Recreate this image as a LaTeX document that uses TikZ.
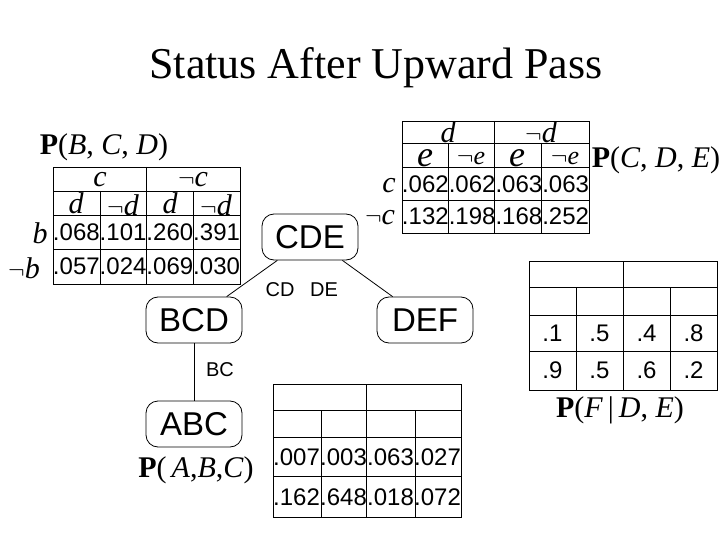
\documentclass[tikz,border=0pt]{standalone}
\usepackage{fontspec}
\setmainfont{Liberation Sans}
\newfontfamily\tms{Liberation Serif}
\tikzset{
  clique/.style={draw,thick,rounded corners=12pt,minimum width=96pt,minimum height=46pt,inner sep=2pt,font=\fontsize{33}{35}\selectfont},
  sep/.style={font=\fontsize{20}{22}\selectfont},
  num/.style={font=\fontsize{24}{26}\selectfont,inner sep=0pt},
  lbl/.style={font=\tms\fontsize{30}{32}\selectfont\itshape,inner sep=0pt},
  ttl/.style={font=\tms\fontsize{30}{32}\selectfont,inner sep=0pt},
  tab/.style={thick}
}
\begin{document}
\begin{tikzpicture}[x=1pt,y=-1pt]
    \useasboundingbox (0,0) rectangle (720,540);

    \node[font=\tms\fontsize{44}{48}\selectfont] (title) at (376,68) {Status After Upward Pass};

    % clique tree
    \node[clique] (cde) at (310,237) {CDE};
    \node[clique] (bcd) at (194,320) {BCD};
    \node[clique] (def) at (425,320) {DEF};
    \node[clique] (abc) at (194,424) {ABC};
    \draw[thick] (cde) -- (bcd);
    \draw[thick] (cde) -- (def);
    \draw[thick] (bcd) -- (abc);
    \node[sep] (scd) at (280,290) {CD};
    \node[sep] (sde) at (324,290) {DE};
    \node[sep] (sbc) at (220,370) {BC};

    % P(B,C,D)
    \draw[tab] (53,167) rectangle (240,284);
    \draw[tab] (53,191) -- (240,191) (53,215) -- (240,215) (53,249) -- (240,249);
    \draw[tab] (146,167) -- (146,284) (100,191) -- (100,284) (193,191) -- (193,284);
    \node[ttl] (pbcd) at (104,147) {\textbf{P}(\textit{B}, \textit{C}, \textit{D})};
    \node[lbl] (hc) at (100,180) {c};
    \node[lbl] (hnc) at (193,180) {$\neg$c};
    \node[lbl] (hd1) at (76,203) {d};
    \node[lbl] (hnd1) at (123,205) {$\neg$d};
    \node[lbl] (hd2) at (170,203) {d};
    \node[lbl] (hnd2) at (216,205) {$\neg$d};
    \node[lbl] (rb) at (40,233) {b};
    \node[lbl] (rnb) at (24,268) {$\neg$b};
    \foreach \v [count=\i] in {.068,.101,.260,.391}
      \node[num] (b\i) at (53+46.75*\i-23.4,232) {\v};
    \foreach \v [count=\i] in {.057,.024,.069,.030}
      \node[num] (nb\i) at (53+46.75*\i-23.4,266) {\v};

    % P(C,D,E)
    \draw[tab] (402,121) rectangle (589,233);
    \draw[tab] (402,143) -- (589,143) (402,167) -- (589,167) (402,200) -- (589,200);
    \draw[tab] (494,121) -- (494,233) (448,143) -- (448,233) (541,143) -- (541,233);
    \node[ttl] (pcde) at (656,160) {\textbf{P}(\textit{C}, \textit{D}, \textit{E})};
    \node[lbl] (hd) at (448,132) {d};
    \node[lbl] (hnd) at (541,132) {$\neg$d};
    \node[lbl,font=\tms\fontsize{36}{38}\selectfont\itshape] (he1) at (425,158) {e};
    \node[lbl,font=\tms\fontsize{26}{28}\selectfont\itshape] (hne1) at (471,159) {$\neg$e};
    \node[lbl,font=\tms\fontsize{36}{38}\selectfont\itshape] (he2) at (517,158) {e};
    \node[lbl,font=\tms\fontsize{26}{28}\selectfont\itshape] (hne2) at (565,159) {$\neg$e};
    \node[lbl] (rc) at (389,186) {c};
    \node[lbl] (rnc) at (380,218) {$\neg$c};
    \foreach \v [count=\i] in {.062,.062,.063,.063}
      \node[num] (c\i) at (402+46.75*\i-23.4,184) {\v};
    \foreach \v [count=\i] in {.132,.198,.168,.252}
      \node[num] (nc\i) at (402+46.75*\i-23.4,216) {\v};

    % P(A,B,C)
    \draw[tab] (273,384) rectangle (461,517);
    \draw[tab] (273,410) -- (461,410) (273,437) -- (461,437) (273,476) -- (461,476);
    \draw[tab] (366,384) -- (366,517) (321,410) -- (321,517) (415,410) -- (415,517);
    \node[ttl] (pabc) at (196,470) {\textbf{P}(\,\textit{A},\textit{B},\textit{C})};
    \foreach \v [count=\i] in {.007,.003,.063,.027}
      \node[num] (a\i) at (273+47*\i-23.5,457) {\v};
    \foreach \v [count=\i] in {.162,.648,.018,.072}
      \node[num] (na\i) at (273+47*\i-23.5,497) {\v};

    % P(F|D,E)
    \draw[tab] (529,261) rectangle (717,390);
    \draw[tab] (529,287) -- (717,287) (529,315) -- (717,315) (529,351) -- (717,351);
    \draw[tab] (623,261) -- (623,390) (576,287) -- (576,390) (670,287) -- (670,390);
    \node[ttl] (pfde) at (620,410) {\textbf{P}(\textit{F}\,|\,\textit{D}, \textit{E})};
    \foreach \v [count=\i] in {.1,.5,.4,.8}
      \node[num] (f\i) at (529+47*\i-23.5,333) {\v};
    \foreach \v [count=\i] in {.9,.5,.6,.2}
      \node[num] (nf\i) at (529+47*\i-23.5,370) {\v};
\end{tikzpicture}
\end{document}
